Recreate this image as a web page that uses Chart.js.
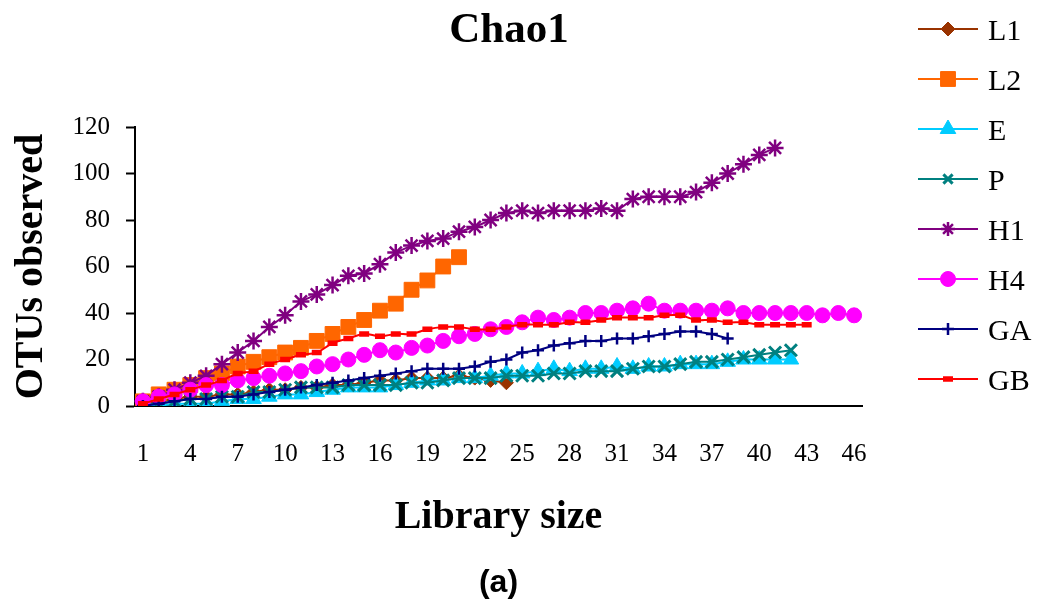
<!DOCTYPE html>
<html>
<head>
<meta charset="utf-8">
<title>Chao1</title>
<script src="https://cdn.jsdelivr.net/npm/chart.js@4/dist/chart.umd.min.js"></script>
<style>
  body { margin: 0; background: #fff; }
  #wrap { width: 1038px; height: 607px; }
</style>
</head>
<body>
<div id="wrap"><canvas id="myChart" width="1038" height="607"></canvas></div>
<script>
// library sizes 1..46
var categories = ['1','2','3','4','5','6','7','8','9','10','11','12','13','14','15','16','17','18','19','20',
  '21','22','23','24','25','26','27','28','29','30','31','32','33','34','35','36','37','38','39','40',
  '41','42','43','44','45','46'];
var xTickLabels = ['1','4','7','10','13','16','19','22','25','28','31','34','37','40','43','46'];

// OTUs observed per library
var L1 = [1,2,3,4,4,5,5,6,7,7,8,8,9,9,10,11,11,12,12,12,13,12,11,10];
var L2 = [2,5,7,9,12,14,17,19,21,23,25,28,31,34,37,41,44,50,54,60,64];
var E  = [0,0,1,1,1,2,3,3,4,5,5,6,7,8,8,8,9,10,11,11,12,12,13,14,14,15,16,15,16,16,17,16,17,17,18,18,18,19,20,20,20,20];
var P  = [1,1,2,3,3,4,4,6,6,7,8,8,8,9,9,9,9,10,10,11,12,12,12,13,13,13,14,14,15,15,15,16,17,17,18,19,19,20,21,22,23,24];
var H1 = [2,4,7,10,13,18,23,28,34,39,45,48,52,56,57,61,66,69,71,72,75,77,80,83,84,83,84,84,84,85,84,89,90,90,90,92,96,100,104,108,111];
var H4 = [2,4,5,7,9,9,11,12,13,14,15,17,18,20,22,24,23,25,26,28,30,31,33,34,36,38,37,38,40,40,41,42,44,41,41,41,41,42,40,40,40,40,40,39,40,39];
var GA = [0,1,2,3,3,4,4,5,6,7,8,9,10,11,12,13,14,15,16,16,16,17,19,20,23,24,26,27,28,28,29,29,30,31,32,32,31,29];
var GB = [1,3,5,7,9,11,14,15,18,20,22,23,27,29,31,30,31,31,33,34,34,33,33,34,35,35,35,36,36,37,38,38,38,39,39,37,37,36,36,35,35,35,35];

var serif = '"Liberation Serif", "Times New Roman", serif';

function series(label, data, color, style, radius, pbw, order, tension) {
  return {
    label: label,
    data: data,
    borderColor: color,
    backgroundColor: color,
    borderWidth: 2,
    pointStyle: style,
    pointRadius: radius,
    pointHoverRadius: radius,
    pointBackgroundColor: color,
    pointBorderColor: color,
    pointBorderWidth: pbw,
    tension: tension || 0,
    order: order,
    fill: false
  };
}

// side legend + title, drawn like the excel one
var sideLegend = {
  id: 'sideLegend',
  afterDraw: function (chart) {
    var ctx = chart.ctx;
    ctx.save();
    ctx.fillStyle = '#000';
    ctx.font = 'bold 43px ' + serif;
    ctx.textAlign = 'center';
    ctx.textBaseline = 'alphabetic';
    ctx.fillText('Chao1', 509, 42);

    chart.data.datasets.forEach(function (ds, k) {
      var y = 29 + k * 50;
      ctx.strokeStyle = ds.borderColor;
      ctx.lineWidth = 2;
      ctx.beginPath();
      ctx.moveTo(918, y);
      ctx.lineTo(978, y);
      ctx.stroke();

      ctx.fillStyle = ds.pointBackgroundColor;
      ctx.lineWidth = ds.pointBorderWidth;
      Chart.helpers.drawPoint(ctx, {
        pointStyle: ds.pointStyle,
        radius: ds.legendRadius || ds.pointRadius,
        rotation: 0,
        borderWidth: ds.pointBorderWidth
      }, 948, y);

      ctx.fillStyle = '#000';
      ctx.font = '30px ' + serif;
      ctx.textAlign = 'left';
      ctx.fillText(ds.label, 988, y + 10.5);
    });
    ctx.restore();
  }
};

var sets = [
  series('L1', L1, '#993300', 'rectRot', 7, 1, 7),
  series('L2', L2, '#FF6600', 'rect', 10.5, 1, 6),
  series('E', E, '#00CCFF', 'triangle', 9, 1, 5),
  series('P', P, '#008080', 'crossRot', 8.5, 3, 4),
  series('H1', H1, '#800080', 'star', 8.5, 2.5, 3),
  series('H4', H4, '#FF00FF', 'circle', 7.5, 1, 2),
  series('GA', GA, '#000080', 'cross', 6, 2.5, 1),
  series('GB', GB, '#FF0000', 'line', 5, 5.5, 0, 0.4)
];
sets[3].legendRadius = 6.5;
sets[4].legendRadius = 7;

var ctx = document.getElementById('myChart').getContext('2d');
var chart = new Chart(ctx, {
  type: 'line',
  data: {
    labels: categories,
    datasets: sets
  },
  options: {
    responsive: false,
    animation: false,
    devicePixelRatio: 1,
    layout: { padding: { top: 127, right: 176, left: 0, bottom: 0 } },
    plugins: {
      legend: { display: false },
      tooltip: { enabled: false },
      title: { display: false },
      subtitle: {
        display: true,
        text: '(a)',
        position: 'bottom',
        fullSize: false,
        color: '#000',
        font: { family: '"Liberation Sans", Arial, sans-serif', size: 32, weight: 'bold' },
        padding: { top: 0, bottom: 5 }
      }
    },
    scales: {
      x: {
        offset: true,
        grid: { display: false, drawTicks: false },
        border: { display: true, color: '#000', width: 2 },
        ticks: {
          autoSkip: false,
          maxRotation: 0,
          padding: 33,
          color: '#000',
          font: { family: serif, size: 25 },
          callback: function (val) {
            var lab = this.getLabelForValue(val);
            return xTickLabels.indexOf(lab) >= 0 ? lab : '';
          }
        },
        title: {
          display: true,
          text: 'Library size',
          color: '#000',
          font: { family: serif, size: 40, weight: 'bold' },
          padding: { top: 0, bottom: 22 }
        },
        afterFit: function (scale) { scale.height = 157.6; }
      },
      y: {
        min: 0,
        max: 120,
        ticks: {
          stepSize: 20,
          padding: 16,
          color: '#000',
          font: { family: serif, size: 25 }
        },
        grid: { display: true, drawOnChartArea: false, drawTicks: true, tickLength: 9, tickColor: '#000', tickWidth: 2 },
        border: { display: true, color: '#000', width: 2 },
        title: {
          display: true,
          text: 'OTUs observed',
          color: '#000',
          font: { family: serif, size: 40, weight: 'bold' },
          padding: { top: 8, bottom: 0 }
        },
        afterFit: function (scale) { scale.width = 135; }
      }
    }
  },
  plugins: [sideLegend]
});
</script>
</body>
</html>
